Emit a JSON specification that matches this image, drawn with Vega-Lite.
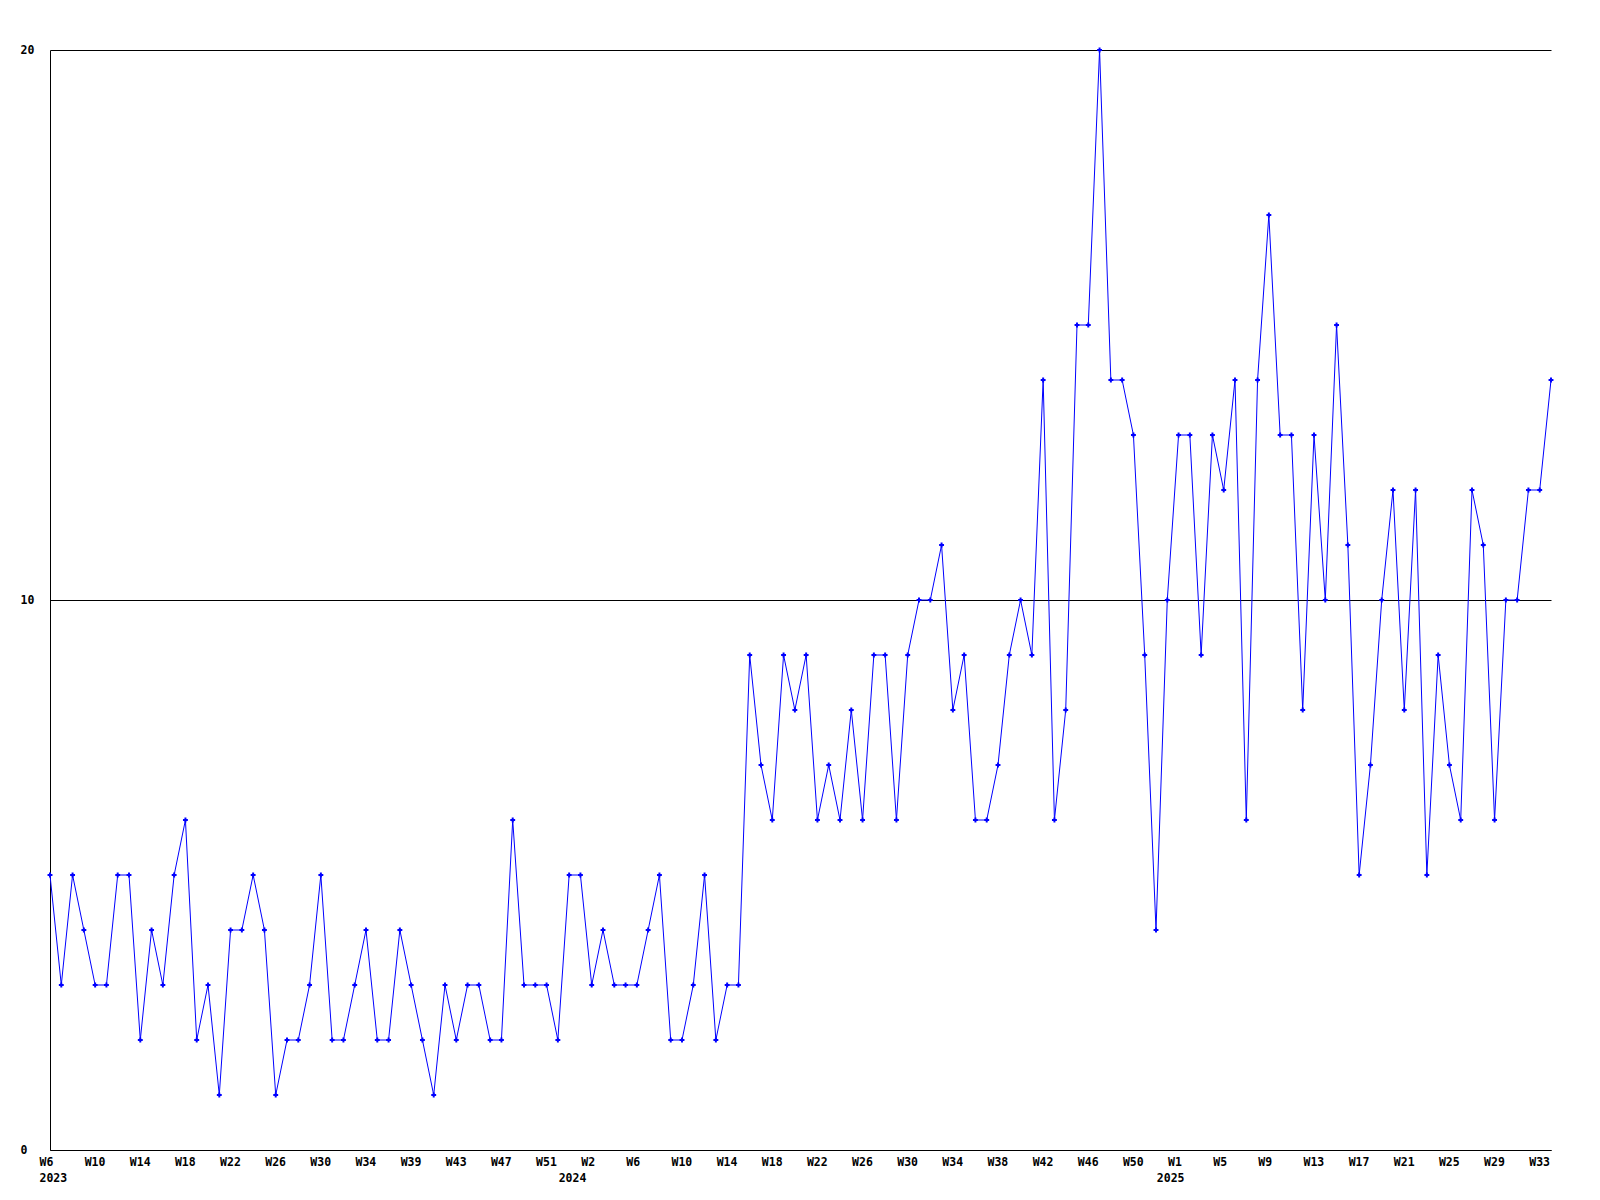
{
  "$schema": "https://vega.github.io/schema/vega-lite/v6.json",
  "width": 1501,
  "height": 1100,
  "autosize": {"type": "none"},
  "padding": {"left": 50, "top": 50, "right": 49, "bottom": 50},
  "background": "white",
  "config": {
    "view": {"stroke": null},
    "axis": {
      "labelFont": "DejaVu Sans Mono",
      "labelFontWeight": "bold",
      "labelFontSize": 11.5,
      "labelColor": "black",
      "domainColor": "black",
      "domainWidth": 1,
      "ticks": false,
      "tickSize": 0,
      "title": null
    }
  },
  "data": {
    "values": [
      {"week": "2023-W06", "count": 5}, {"week": "2023-W07", "count": 3}, {"week": "2023-W08", "count": 5}, {"week": "2023-W09", "count": 4},
      {"week": "2023-W10", "count": 3}, {"week": "2023-W11", "count": 3}, {"week": "2023-W12", "count": 5}, {"week": "2023-W13", "count": 5},
      {"week": "2023-W14", "count": 2}, {"week": "2023-W15", "count": 4}, {"week": "2023-W16", "count": 3}, {"week": "2023-W17", "count": 5},
      {"week": "2023-W18", "count": 6}, {"week": "2023-W19", "count": 2}, {"week": "2023-W20", "count": 3}, {"week": "2023-W21", "count": 1},
      {"week": "2023-W22", "count": 4}, {"week": "2023-W23", "count": 4}, {"week": "2023-W24", "count": 5}, {"week": "2023-W25", "count": 4},
      {"week": "2023-W26", "count": 1}, {"week": "2023-W27", "count": 2}, {"week": "2023-W28", "count": 2}, {"week": "2023-W29", "count": 3},
      {"week": "2023-W30", "count": 5}, {"week": "2023-W31", "count": 2}, {"week": "2023-W32", "count": 2}, {"week": "2023-W33", "count": 3},
      {"week": "2023-W34", "count": 4}, {"week": "2023-W35", "count": 2}, {"week": "2023-W36", "count": 2}, {"week": "2023-W37", "count": 4},
      {"week": "2023-W39", "count": 3}, {"week": "2023-W40", "count": 2}, {"week": "2023-W41", "count": 1}, {"week": "2023-W42", "count": 3},
      {"week": "2023-W43", "count": 2}, {"week": "2023-W44", "count": 3}, {"week": "2023-W45", "count": 3}, {"week": "2023-W46", "count": 2},
      {"week": "2023-W47", "count": 2}, {"week": "2023-W48", "count": 6}, {"week": "2023-W49", "count": 3}, {"week": "2023-W50", "count": 3},
      {"week": "2023-W51", "count": 3}, {"week": "2023-W52", "count": 2}, {"week": "2023-W53", "count": 5},
      {"week": "2024-W01", "count": 5}, {"week": "2024-W02", "count": 3}, {"week": "2024-W03", "count": 4}, {"week": "2024-W04", "count": 3},
      {"week": "2024-W05", "count": 3}, {"week": "2024-W06", "count": 3}, {"week": "2024-W07", "count": 4}, {"week": "2024-W08", "count": 5},
      {"week": "2024-W09", "count": 2}, {"week": "2024-W10", "count": 2}, {"week": "2024-W11", "count": 3}, {"week": "2024-W12", "count": 5},
      {"week": "2024-W13", "count": 2}, {"week": "2024-W14", "count": 3}, {"week": "2024-W15", "count": 3}, {"week": "2024-W16", "count": 9},
      {"week": "2024-W17", "count": 7}, {"week": "2024-W18", "count": 6}, {"week": "2024-W19", "count": 9}, {"week": "2024-W20", "count": 8},
      {"week": "2024-W21", "count": 9}, {"week": "2024-W22", "count": 6}, {"week": "2024-W23", "count": 7}, {"week": "2024-W24", "count": 6},
      {"week": "2024-W25", "count": 8}, {"week": "2024-W26", "count": 6}, {"week": "2024-W27", "count": 9}, {"week": "2024-W28", "count": 9},
      {"week": "2024-W29", "count": 6}, {"week": "2024-W30", "count": 9}, {"week": "2024-W31", "count": 10}, {"week": "2024-W32", "count": 10},
      {"week": "2024-W33", "count": 11}, {"week": "2024-W34", "count": 8}, {"week": "2024-W35", "count": 9}, {"week": "2024-W36", "count": 6},
      {"week": "2024-W37", "count": 6}, {"week": "2024-W38", "count": 7}, {"week": "2024-W39", "count": 9}, {"week": "2024-W40", "count": 10},
      {"week": "2024-W41", "count": 9}, {"week": "2024-W42", "count": 14}, {"week": "2024-W43", "count": 6}, {"week": "2024-W44", "count": 8},
      {"week": "2024-W45", "count": 15}, {"week": "2024-W46", "count": 15}, {"week": "2024-W47", "count": 20}, {"week": "2024-W48", "count": 14},
      {"week": "2024-W49", "count": 14}, {"week": "2024-W50", "count": 13}, {"week": "2024-W51", "count": 9}, {"week": "2024-W52", "count": 4},
      {"week": "2024-W53", "count": 10},
      {"week": "2025-W01", "count": 13}, {"week": "2025-W02", "count": 13}, {"week": "2025-W03", "count": 9}, {"week": "2025-W04", "count": 13},
      {"week": "2025-W05", "count": 12}, {"week": "2025-W06", "count": 14}, {"week": "2025-W07", "count": 6}, {"week": "2025-W08", "count": 14},
      {"week": "2025-W09", "count": 17}, {"week": "2025-W10", "count": 13}, {"week": "2025-W11", "count": 13}, {"week": "2025-W12", "count": 8},
      {"week": "2025-W13", "count": 13}, {"week": "2025-W14", "count": 10}, {"week": "2025-W15", "count": 15}, {"week": "2025-W16", "count": 11},
      {"week": "2025-W17", "count": 5}, {"week": "2025-W18", "count": 7}, {"week": "2025-W19", "count": 10}, {"week": "2025-W20", "count": 12},
      {"week": "2025-W21", "count": 8}, {"week": "2025-W22", "count": 12}, {"week": "2025-W23", "count": 5}, {"week": "2025-W24", "count": 9},
      {"week": "2025-W25", "count": 7}, {"week": "2025-W26", "count": 6}, {"week": "2025-W27", "count": 12}, {"week": "2025-W28", "count": 11},
      {"week": "2025-W29", "count": 6}, {"week": "2025-W30", "count": 10}, {"week": "2025-W31", "count": 10}, {"week": "2025-W32", "count": 12},
      {"week": "2025-W33", "count": 12}, {"week": "2025-W34", "count": 14}
    ]
  },
  "encoding": {
    "x": {
      "field": "week",
      "type": "ordinal",
      "sort": null,
      "scale": {"type": "point", "padding": 0},
      "axis": {
        "labelAngle": 0,
        "labelAlign": "left",
        "labelBaseline": "top",
        "labelOffset": -11,
        "labelPadding": 6,
        "labelLineHeight": 16,
        "grid": false,
        "values": ["2023-W06","2023-W10","2023-W14","2023-W18","2023-W22","2023-W26","2023-W30","2023-W34","2023-W39","2023-W43","2023-W47","2023-W51","2023-W53",
                   "2024-W02","2024-W06","2024-W10","2024-W14","2024-W18","2024-W22","2024-W26","2024-W30","2024-W34","2024-W38","2024-W42","2024-W46","2024-W50","2024-W53",
                   "2025-W01","2025-W05","2025-W09","2025-W13","2025-W17","2025-W21","2025-W25","2025-W29","2025-W33"],
        "labelExpr": "datum.value == '2023-W06' ? ['W6', '2023'] : datum.value == '2023-W53' ? [' ', '2024'] : datum.value == '2024-W53' ? [' ', '2025'] : 'W' + toNumber(substring(datum.value, 6))"
      }
    },
    "y": {
      "field": "count",
      "type": "quantitative",
      "scale": {"domain": [0, 20], "nice": false, "zero": true},
      "axis": {
        "values": [0, 10, 20],
        "grid": true,
        "gridColor": "black",
        "gridOpacity": 1,
        "gridWidth": 1,
        "labelAlign": "left",
        "labelPadding": 30
      }
    }
  },
  "layer": [
    {"mark": {"type": "line", "color": "#0000ff", "strokeWidth": 1}},
    {"mark": {"type": "point", "shape": "cross", "filled": true, "size": 24, "color": "#0000ff", "opacity": 1}}
  ]
}
